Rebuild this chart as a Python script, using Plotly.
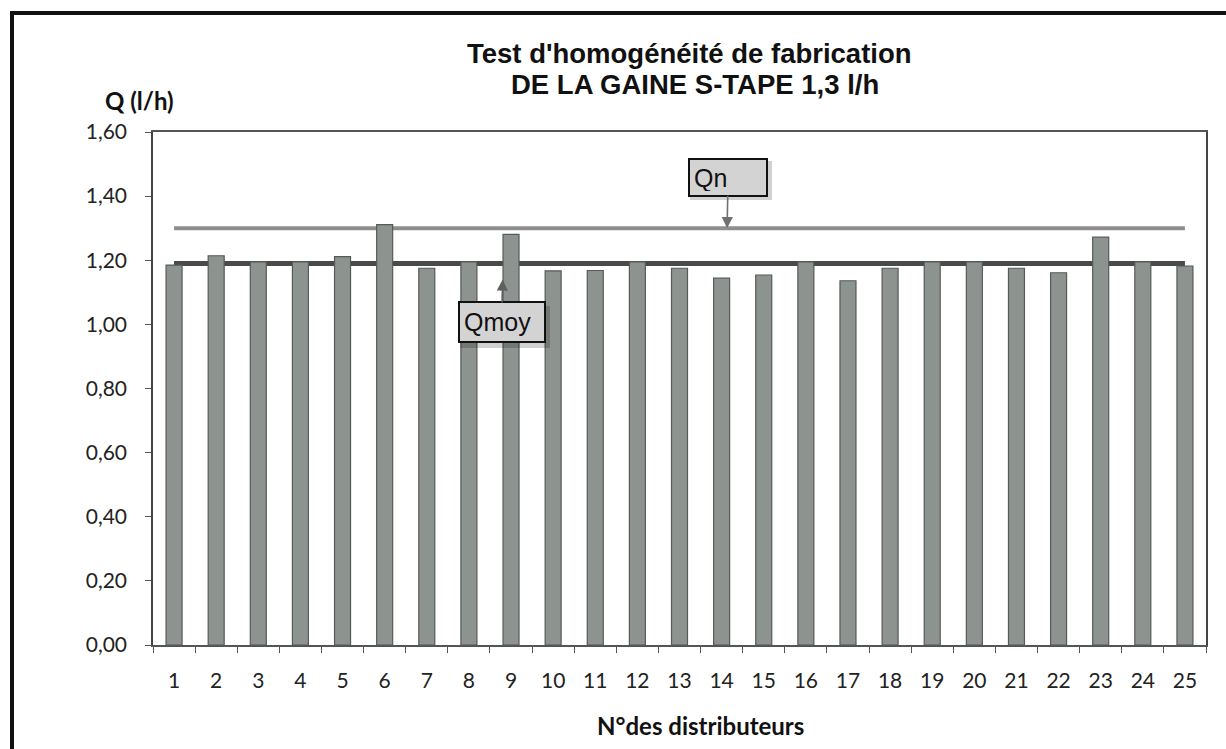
import plotly.graph_objects as go

categories = ["1", "2", "3", "4", "5", "6", "7", "8", "9", "10", "11", "12", "13",
              "14", "15", "16", "17", "18", "19", "20", "21", "22", "23", "24", "25"]
debits = [1.185, 1.214, 1.195, 1.195, 1.211, 1.311, 1.175, 1.195, 1.281, 1.167,
          1.168, 1.195, 1.175, 1.144, 1.154, 1.195, 1.136, 1.175, 1.195, 1.195,
          1.175, 1.161, 1.272, 1.195, 1.182]
q_nominal = 1.30
q_moyen = 1.19
y_ticks = [0.0, 0.2, 0.4, 0.6, 0.8, 1.0, 1.2, 1.4, 1.6]

title_1 = "Test d'homogénéité de fabrication"
title_2 = "DE LA GAINE S-TAPE 1,3 l/h"
y_title = "Q (l/h)"
x_title = "N°des distributeurs"

W, H = 1226, 749
L, R, T, B = 153, 20, 132, 104
pw, ph = W - L - R, H - T - B


def px(xp):
    return (xp - L) / pw


def py(yp):
    return (H - B - yp) / ph


fig = go.Figure()
fig.add_trace(go.Bar(
    x=categories, y=debits,
    marker=dict(color="#8d938f", line=dict(color="#565b58", width=1.2)),
    hoverinfo="x+y", showlegend=False,
))

n = len(categories)
shapes = [
    dict(type="line", xref="x", yref="y", x0=0, x1=n - 1, y0=q_nominal, y1=q_nominal,
         line=dict(color="#8e8e8e", width=4), layer="below"),
    dict(type="line", xref="x", yref="y", x0=0, x1=n - 1, y0=q_moyen, y1=q_moyen,
         line=dict(color="#4a4a4a", width=5), layer="below"),
    # outer frame (top and left)
    dict(type="line", xref="paper", yref="paper", x0=px(10), x1=px(1226), y0=py(13), y1=py(13),
         line=dict(color="#111111", width=4)),
    dict(type="line", xref="paper", yref="paper", x0=px(12), x1=px(12), y0=py(11), y1=py(749),
         line=dict(color="#111111", width=4)),
    # soft shadows behind the label boxes
    dict(type="rect", xref="paper", yref="paper", x0=px(690), x1=px(772), y0=py(161), y1=py(200),
         line=dict(width=0), fillcolor="rgba(0,0,0,0.18)"),
    dict(type="rect", xref="paper", yref="paper", x0=px(460), x1=px(550), y0=py(306), y1=py(348),
         line=dict(width=0), fillcolor="rgba(0,0,0,0.18)"),
]

annotations = [
    dict(text="<b>" + title_1 + "</b>", xref="paper", yref="paper", x=px(689), y=py(54),
         xanchor="center", yanchor="middle", showarrow=False,
         font=dict(family="Liberation Sans", size=27.5, color="#111111")),
    dict(text="<b>" + title_2 + "</b>", xref="paper", yref="paper", x=px(695), y=py(84),
         xanchor="center", yanchor="middle", showarrow=False,
         font=dict(family="Liberation Sans", size=27.5, color="#111111")),
    dict(text="<b>" + y_title + "</b>", xref="paper", yref="paper", x=px(139), y=py(100),
         xanchor="center", yanchor="middle", showarrow=False,
         font=dict(family="Lato", size=24, color="#111111")),
    dict(text="<b>" + x_title + "</b>", xref="paper", yref="paper", x=px(700), y=py(725),
         xanchor="center", yanchor="middle", showarrow=False,
         font=dict(family="Lato", size=24, color="#111111")),
    dict(text="Qn", xref="x", yref="y", x=13.13, y=q_nominal, ax=1, ay=-51,
         showarrow=True, arrowhead=2, arrowsize=1.4, arrowwidth=1.6, arrowcolor="#707070",
         standoff=0, align="left", width=68, height=27,
         bgcolor="#d3d3d3", bordercolor="#111111", borderwidth=2, borderpad=4,
         font=dict(family="Liberation Sans", size=25, color="#111111")),
    dict(text="Qmoy", xref="x", yref="y", x=7.8, y=1.14, ax=-1, ay=43,
         showarrow=True, arrowhead=2, arrowsize=1.4, arrowwidth=1.6, arrowcolor="#606060",
         standoff=0, align="left", width=76, height=30,
         bgcolor="#d3d3d3", bordercolor="#111111", borderwidth=2, borderpad=4,
         font=dict(family="Liberation Sans", size=25, color="#111111")),
]

fig.update_layout(
    width=W, height=H,
    margin=dict(l=L, r=R, t=T, b=B),
    paper_bgcolor="white", plot_bgcolor="white",
    separators=", ",
    bargap=0.62,
    shapes=shapes,
    annotations=annotations,
    font=dict(family="Lato", size=21, color="#222222"),
    xaxis=dict(
        type="category", tickson="boundaries", ticks="outside", ticklen=6,
        tickcolor="#555555", showline=True, linecolor="#555555", linewidth=1.5,
        mirror=True, showgrid=False, ticklabelstandoff=16,
        tickfont=dict(family="Lato", size=21, color="#222222"),
    ),
    yaxis=dict(
        range=[0, 1.6], tickvals=y_ticks, tickformat=".2f", ticks="outside", ticklen=6,
        tickcolor="#555555", showline=True, linecolor="#444444", linewidth=1.5,
        mirror=True, showgrid=False, zeroline=False, ticklabelstandoff=14,
        tickfont=dict(family="Lato", size=21, color="#222222"),
    ),
)

fig.write_html("out.html", config={"displayModeBar": False},
               post_script="document.body.style.margin='0';")
